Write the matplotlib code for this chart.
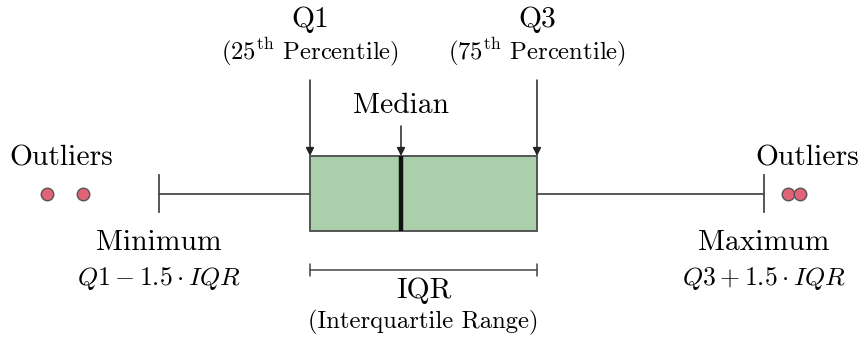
import numpy as np
import matplotlib
matplotlib.use("Agg")
import matplotlib.pyplot as plt

plt.rcParams['font.family'] = ['cmr10', 'DejaVu Serif']
plt.rcParams['mathtext.fontset'] = 'cm'
plt.rcParams['axes.unicode_minus'] = False

# box statistics (in the drawing's own horizontal units)
q1 = 310
median = 401
q3 = 537
whisker_lo = 159
whisker_hi = 764
outliers_lo = [47, 83]
outliers_hi = [788, 800]

stats = [{
    'q1': q1, 'med': median, 'q3': q3,
    'whislo': whisker_lo, 'whishi': whisker_hi,
    'fliers': outliers_lo + outliers_hi,
}]

fig = plt.figure(figsize=(8.6, 3.4), dpi=100)
ax = fig.add_axes([0, 0, 1, 1])
ax.set_xlim(0, 860)
ax.set_ylim(340, 0)
ax.axis('off')

box_y = 193.5
ax.bxp(stats, positions=[box_y], widths=75, capwidths=37,
       orientation='horizontal', patch_artist=True, showfliers=True,
       boxprops=dict(facecolor='#abcfaa', edgecolor='#4a4a4a', linewidth=1.3),
       whiskerprops=dict(color='#4a4a4a', linewidth=1.3),
       capprops=dict(color='#4a4a4a', linewidth=1.3),
       medianprops=dict(color='#111111', linewidth=3.2),
       flierprops=dict(marker='o', markerfacecolor='#e06377',
                       markeredgecolor='#555555', markeredgewidth=1.0,
                       markersize=9))

big = 21.3
small = 17.8
maths = 18.5
box_top = box_y - 37.5

# quartile labels with arrows
ax.text(q1, 20, 'Q1', fontsize=big, ha='center', va='center')
ax.text(q1, 52, r'(25$^{\rm th}$ Percentile)', fontsize=small, ha='center', va='center')
ax.text(q3, 20, 'Q3', fontsize=big, ha='center', va='center')
ax.text(q3, 52, r'(75$^{\rm th}$ Percentile)', fontsize=small, ha='center', va='center')
ax.text(median, 106, 'Median', fontsize=big, ha='center', va='center')

arrow = dict(arrowstyle='-|>', color='#222222', lw=1.1, mutation_scale=12,
             shrinkA=0, shrinkB=0)
for x, top in [(q1, 80), (q3, 80), (median, 126)]:
    ax.annotate('', xy=(x, box_top), xytext=(x, top), arrowprops=arrow)

# outliers
ax.text(np.mean(outliers_lo) - 4, 158, 'Outliers', fontsize=big, ha='center', va='center')
ax.text(np.mean(outliers_hi) + 13, 158, 'Outliers', fontsize=big, ha='center', va='center')

# whisker ends
ax.text(whisker_lo, 243, 'Minimum', fontsize=big, ha='center', va='center')
ax.text(whisker_lo, 278, r'$Q1 - 1.5 \cdot IQR$', fontsize=maths, ha='center', va='center')
ax.text(whisker_hi, 243, 'Maximum', fontsize=big, ha='center', va='center')
ax.text(whisker_hi, 278, r'$Q3 + 1.5 \cdot IQR$', fontsize=maths, ha='center', va='center')

# IQR bracket
ax.annotate('', xy=(q1, 270), xytext=(q3, 270),
            arrowprops=dict(arrowstyle='|-|', color='#444444', lw=1.1,
                            mutation_scale=4, shrinkA=0, shrinkB=0))
ax.text((q1 + q3) / 2, 291, 'IQR', fontsize=big, ha='center', va='center')
ax.text((q1 + q3) / 2, 322, '(Interquartile Range)', fontsize=small, ha='center', va='center')

fig.savefig('out.png', dpi=100)
